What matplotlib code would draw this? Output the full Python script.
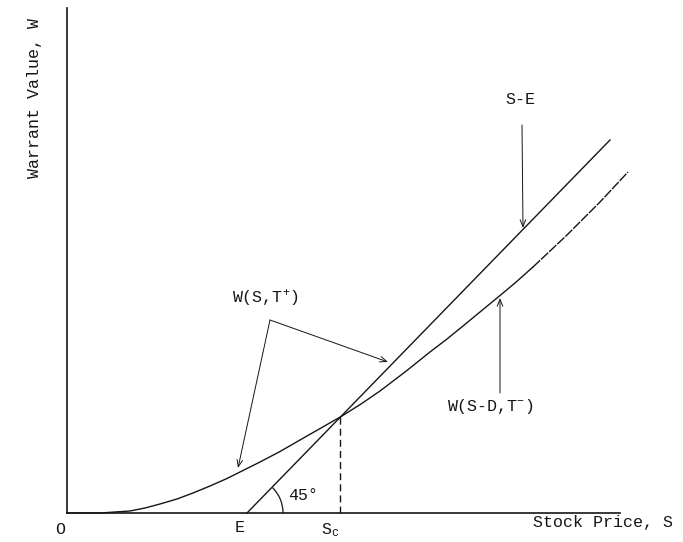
import numpy as np
import matplotlib
matplotlib.use("Agg")
import matplotlib.pyplot as plt
from matplotlib.patches import Arc

plt.rcParams['font.family'] = ['Liberation Mono', 'DejaVu Sans Mono']
plt.rcParams['mathtext.fontset'] = 'custom'
plt.rcParams['mathtext.rm'] = 'Liberation Mono'
plt.rcParams['mathtext.it'] = 'Liberation Mono'

# warrant value curve (stock price S, warrant value W)
curve_S = [0, 33, 48, 63, 78, 93, 110, 126, 143, 160, 176, 193, 213, 233, 254, 275,
           294, 313, 338, 363, 380, 396, 413, 430, 448, 466, 483, 500, 516, 533, 547, 561]
curve_W = [0, 0, 1, 2, 5, 9, 14, 20, 27, 34.5, 42.5, 51, 61.5, 73, 85, 97,
           109, 122, 141, 161, 174, 187, 201, 215, 230, 246, 262, 278, 294, 311, 326, 341]

# intrinsic value line S - E
E = 180
se_S = [E, 543]
se_W = [0, 373]

# critical stock price S_c
S_c = 273
W_c = 97

ink = '#151515'

fig = plt.figure(figsize=(6.83, 5.42), dpi=100)
ax = fig.add_axes([0, 0, 1, 1])
ax.set_xlim(-67, 616)
ax.set_ylim(-29, 513)
ax.axis('off')

# Axes
ax.plot([0, 0], [0, 505], color=ink, lw=1.2)
ax.plot([0, 553], [0, 0], color=ink, lw=1.2)

# S - E line
ax.plot(se_S, se_W, color=ink, lw=1.0)

# warrant curve, tail drawn broken as in the scan
ax.plot(curve_S[:26], curve_W[:26], color=ink, lw=1.0, solid_joinstyle='round')
ax.plot(curve_S[25:], curve_W[25:], color=ink, lw=1.0, ls=(0, (7, 1)))

# dashed line down to S_c
ax.plot([S_c, S_c], [0, W_c], color=ink, lw=1.0, ls=(0, (5, 3)))

# 45 degree arc
ax.add_patch(Arc((E, 0), 72, 72, theta1=0, theta2=45, color=ink, lw=0.9))
ax.text(236, 18, '45°', fontsize=12, ha='center', va='center', color=ink)

arrow = dict(arrowstyle='->,head_length=0.5,head_width=0.2', color=ink, lw=0.7,
             shrinkA=0, shrinkB=0)

# labels and arrows
ax.text(453, 413, 'S-E', fontsize=12, ha='center', va='center', color=ink)
ax.annotate('', xy=(456, 285), xytext=(455, 388), arrowprops=arrow)

ax.text(198, 216, 'W(S,T$^{+}$)', fontsize=12, ha='center', va='center', color=ink)
ax.annotate('', xy=(171, 45), xytext=(203, 193), arrowprops=arrow)
ax.annotate('', xy=(321, 151), xytext=(203, 193), arrowprops=arrow)

ax.text(423, 106, 'W(S-D,T$^{-}$)', fontsize=12, ha='center', va='center', color=ink)
ax.annotate('', xy=(433, 215), xytext=(433, 120), arrowprops=arrow)

# axis labels
ax.text(-7, -17, 'O', fontsize=12, ha='center', va='center', color=ink)
ax.text(173, -15, 'E', fontsize=12, ha='center', va='center', color=ink)
ax.text(263, -17, 'S$_{c}$', fontsize=12, ha='center', va='center', color=ink)
ax.text(536, -9, 'Stock Price, S', fontsize=12, ha='center', va='center', color=ink)
ax.text(-32, 415, 'Warrant Value, W', fontsize=12, ha='center', va='center',
        rotation=90, color=ink)

plt.savefig('out.png', dpi=100)
